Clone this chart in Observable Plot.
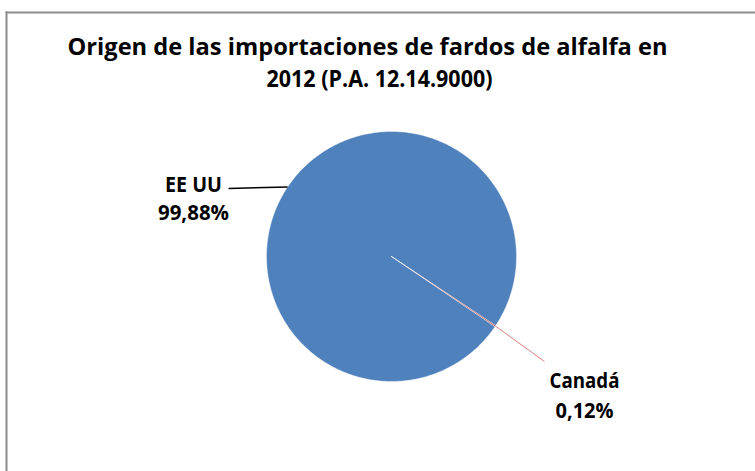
<!DOCTYPE html>
<html><head><meta charset="utf-8">
<script src="https://cdn.jsdelivr.net/npm/d3@7"></script>
<script src="https://cdn.jsdelivr.net/npm/@observablehq/plot@0.6"></script>
<style>body{margin:0;background:#fff}</style>
</head><body><div id="chart"></div>
<script>
// ---- data ----
const countries = ["EE UU", "Canadá"];
const shares = [99.88, 0.12];
const shareLabels = ["99,88%", "0,12%"];
const sliceColors = ["#4F81BD", "#C0504D"];
const titleLines = ["Origen de las importaciones de fardos de alfalfa en", "2012 (P.A. 12.14.9000)"];

// ---- layout ----
const W = 755, H = 471;
const cx = 391, cy = 256, R = 125;
const rotation = 124; // degrees clockwise from 12 o'clock where first slice starts
const FONT = "'Open Sans', 'Noto Sans', sans-serif";

const total = d3.sum(shares);
let acc = rotation;
const slices = countries.map((name, i) => {
  const a0 = acc, a1 = acc + shares[i] / total * 360;
  acc = a1;
  return {name, a0, a1, mid: (a0 + a1) / 2, label: shareLabels[i]};
});
const pt = (deg, r) => {
  const a = deg * Math.PI / 180;
  return [cx + r * Math.sin(a), cy - r * Math.cos(a)];
};
const polyPts = [];
for (const s of slices) {
  const n = Math.max(2, Math.ceil((s.a1 - s.a0) / 1));
  polyPts.push({name: s.name, x: cx, y: cy});
  for (let k = 0; k <= n; k++) {
    const [x, y] = pt(s.a0 + (s.a1 - s.a0) * k / n, R);
    polyPts.push({name: s.name, x, y});
  }
}

// label placement (layout) and fitted text widths
const labelPos = {"EE UU": {x: 193, y1: 184, y2: 212, end: [228, 188]},
                  "Canadá": {x: 584, y1: 380, y2: 410, end: [544, 361]}};
const textWidths = {"EE UU": 57, "99,88%": 71, "Canadá": 70, "0,12%": 58};
const titleWidths = [600, 226];

const leaders = slices.map(s => {
  const [x1, y1] = pt(s.mid, R);
  const [x2, y2] = labelPos[s.name].end;
  return {name: s.name, x1, y1, x2, y2};
});
const labelText = slices.flatMap(s => [
  {name: s.name, x: labelPos[s.name].x, y: labelPos[s.name].y1, t: s.name},
  {name: s.name, x: labelPos[s.name].x, y: labelPos[s.name].y2, t: s.label}
]);
const titleData = titleLines.map((t, i) => ({t, x: i === 0 ? 367 : 379, y: 47 + i * 32}));

const chart = Plot.plot({
  width: W, height: H,
  marginTop: 12, marginLeft: 6, marginRight: 0, marginBottom: 0,
  x: {domain: [6, W], range: [6, W], axis: null},
  y: {domain: [12, H], range: [12, H], axis: null},
  color: {domain: countries, range: sliceColors},
  style: {fontFamily: FONT, background: "#fff"},
  marks: [
    Plot.frame({anchor: "top", stroke: "#8c8c8c", strokeWidth: 2, strokeOpacity: 1}),
    Plot.frame({anchor: "left", stroke: "#8c8c8c", strokeWidth: 2, strokeOpacity: 1}),
    Plot.line(polyPts, {x: "x", y: "y", z: "name", fill: "name", stroke: "#fff", strokeWidth: 0.4, curve: "linear-closed"}),
    Plot.link(leaders, {x1: "x1", y1: "y1", x2: "x2", y2: "y2",
      stroke: d => d.name === "Canadá" ? "#D98080" : "#000", strokeWidth: d => d.name === "Canadá" ? 1 : 1.5}),
    Plot.text(labelText, {x: "x", y: "y", text: "t", fontSize: 22, fontWeight: "bold", fill: "#000", textAnchor: "middle", lineAnchor: "middle"}),
    Plot.text(titleData, {x: "x", y: "y", text: "t", fontSize: 23.5, fontWeight: "bold", fill: "#000", textAnchor: "middle", lineAnchor: "middle"})
  ]
});
// compress text horizontally to the reference's narrower (Calibri-like) widths
chart.querySelectorAll("text").forEach(el => {
  const s = el.textContent;
  let w = textWidths[s];
  const ti = titleLines.indexOf(s);
  if (ti >= 0) w = titleWidths[ti];
  if (w) { el.setAttribute("textLength", w); el.setAttribute("lengthAdjust", "spacingAndGlyphs"); }
});
document.getElementById("chart").appendChild(chart);
</script>
</body></html>
